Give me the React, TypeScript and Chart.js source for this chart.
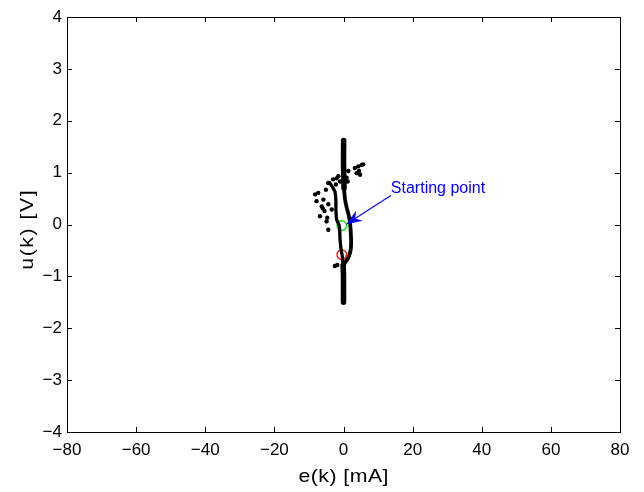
import React, { useEffect, useRef } from "react";
import { Chart, registerables } from "chart.js";
Chart.register(...registerables);

const X_TICKS = [-80, -60, -40, -20, 0, 20, 40, 60, 80];
const Y_TICKS = [-4, -3, -2, -1, 0, 1, 2, 3, 4];

// thick trunk (upper)
const trunkUpperE = [0.05, 0.0, 0.1, 0.15];
const trunkUpperU = [1.62, 1.2, 0.9, 0.7];
// thick trunk (lower)
const trunkLowerE = [-0.1, 0.0, 0.0, 0.0];
const trunkLowerU = [-0.78, -1.0, -1.25, -1.5];
// right branch of the loop
const rightE = [0.15, 0.4, 0.9, 1.5, 1.9, 2.2, 2.1, 1.4, 0.4, -0.1];
const rightU = [0.7, 0.5, 0.33, 0.18, 0.03, -0.29, -0.48, -0.64, -0.74, -0.8];
// left branch of the loop
const leftE = [-3.9, -2.5, -2.2, -2.2, -2.0, -1.2, -1.0, -0.7, -0.35, -0.1];
const leftU = [0.8, 0.64, 0.45, 0.3, 0.1, -0.03, -0.29, -0.48, -0.61, -0.78];
// scattered samples
const dotsE = [-8.2, -7.3, -7.8, -5.8, -6.3, -4.4, -3.4, -6.8, -4.7, -4.9, -4.4, -6.0, -5.5, -5.1, -4.4,
  -3.0, -2.0, -1.5, -1.0, -2.2,
  3.3, 4.3, 5.7, 5.3, 3.8, 4.8, 4.5, 1.4, 1.2, 0.9,
  -2.5, -1.8];
const dotsU = [0.58, 0.61, 0.45, 0.48, 0.35, 0.39, 0.29, 0.16, 0.13, 0.06, -0.1, 0.31, 0.26, 0.67, 0.8,
  0.87, 0.89, 0.93, 0.83, 0.77,
  1.09, 1.12, 1.16, 1.15, 0.99, 0.96, 1.03, 1.03, 0.83, 0.9,
  -0.8, -0.78];
// markers
const startE = [-0.5];
const startU = [-0.02];
const endE = [-0.5];
const endU = [-0.58];
// annotation
const ANNOT_TEXT = "Starting point";
const ANNOT_TEXT_POS = [13.7, 0.61];
const ARROW_FROM = [13.7, 0.56];
const ARROW_TO = [0.7, 0.0];

const X_TITLE = "e(k) [mA]";
const Y_TITLE = "u(k) [V]";

const FONT = "'Liberation Sans', Arial, Helvetica, sans-serif";

const pts = (xs: number[], ys: number[]) => xs.map((x, i) => ({ x, y: ys[i] }));
const fmt = (v: number) => String(v).replace("-", "\u2212");

const decor = {
  id: "decor",
  afterDraw(chart: any) {
    const { ctx, chartArea: a, scales } = chart;
    const xs = scales.x;
    const ys = scales.y;
    ctx.save();
    ctx.strokeStyle = "#000";
    ctx.lineWidth = 1;
    // box
    ctx.strokeRect(Math.round(a.left) + 0.5, Math.round(a.top) + 0.5, Math.round(a.right - a.left), Math.round(a.bottom - a.top));
    // inward ticks
    const TL = 5;
    ctx.beginPath();
    X_TICKS.forEach((v) => {
      const p = Math.round(xs.getPixelForValue(v)) + 0.5;
      ctx.moveTo(p, a.bottom);
      ctx.lineTo(p, a.bottom - TL);
      ctx.moveTo(p, a.top);
      ctx.lineTo(p, a.top + TL);
    });
    Y_TICKS.forEach((v) => {
      const p = Math.round(ys.getPixelForValue(v)) + 0.5;
      ctx.moveTo(a.left, p);
      ctx.lineTo(a.left + TL, p);
      ctx.moveTo(a.right, p);
      ctx.lineTo(a.right - TL, p);
    });
    ctx.stroke();

    // titles
    ctx.fillStyle = "#000";
    ctx.font = `19px ${FONT}`;
    ctx.textAlign = "center";
    ctx.textBaseline = "middle";
    ctx.save();
    ctx.translate((a.left + a.right) / 2, 477);
    ctx.scale(1.12, 1);
    (ctx as any).letterSpacing = "0.4px";
    ctx.fillText(X_TITLE, 0.2, 0);
    ctx.restore();
    ctx.save();
    ctx.translate(27.5, 230);
    ctx.rotate(-Math.PI / 2);
    ctx.scale(1.12, 1);
    (ctx as any).letterSpacing = "1.4px";
    ctx.fillText(Y_TITLE, 0.7, 0);
    ctx.restore();

    // annotation arrow
    const x0 = xs.getPixelForValue(ARROW_FROM[0]);
    const y0 = ys.getPixelForValue(ARROW_FROM[1]);
    const x1 = xs.getPixelForValue(ARROW_TO[0]);
    const y1 = ys.getPixelForValue(ARROW_TO[1]);
    const len = Math.hypot(x1 - x0, y1 - y0);
    const dx = (x1 - x0) / len;
    const dy = (y1 - y0) / len;
    const nx = -dy;
    const ny = dx;
    const L = 16;
    const W = 6;
    const N = 5;
    ctx.strokeStyle = "#0000ff";
    ctx.fillStyle = "#0000ff";
    ctx.lineWidth = 1.1;
    ctx.beginPath();
    ctx.moveTo(x0, y0);
    ctx.lineTo(x1 - dx * (L - N), y1 - dy * (L - N));
    ctx.stroke();
    ctx.beginPath();
    ctx.moveTo(x1, y1);
    ctx.lineTo(x1 - dx * L + nx * W, y1 - dy * L + ny * W);
    ctx.lineTo(x1 - dx * (L - N), y1 - dy * (L - N));
    ctx.lineTo(x1 - dx * L - nx * W, y1 - dy * L - ny * W);
    ctx.closePath();
    ctx.fill();

    ctx.font = `16px ${FONT}`;
    ctx.textAlign = "left";
    ctx.textBaseline = "alphabetic";
    ctx.fillText(ANNOT_TEXT, xs.getPixelForValue(ANNOT_TEXT_POS[0]), ys.getPixelForValue(ANNOT_TEXT_POS[1]));
    ctx.restore();
  },
};

export default function App() {
  const ref = useRef<HTMLCanvasElement | null>(null);
  useEffect(() => {
    document.body.style.margin = "0";
    const canvas = ref.current!;
    const lineDs = (label: string, xs: number[], ys: number[], w: number) => ({
      label,
      data: pts(xs, ys),
      showLine: true,
      borderColor: "#000",
      backgroundColor: "#000",
      borderWidth: w,
      borderCapStyle: "round",
      borderJoinStyle: "round",
      pointRadius: 0,
      tension: 0.2,
    });
    const chart = new Chart(canvas, {
      type: "scatter",
      data: {
        datasets: [
          lineDs("trunk upper", trunkUpperE, trunkUpperU, 5.5),
          lineDs("right branch", rightE, rightU, 3.8),
          lineDs("left branch", leftE, leftU, 3.3),
          lineDs("trunk lower", trunkLowerE, trunkLowerU, 5.5),
          {
            label: "samples",
            data: pts(dotsE, dotsU),
            showLine: false,
            pointRadius: 2.2,
            pointBorderWidth: 0,
            backgroundColor: "#000",
            borderColor: "#000",
          },
          {
            label: "start",
            data: pts(startE, startU),
            showLine: false,
            pointRadius: 4.8,
            pointBorderWidth: 1.3,
            backgroundColor: "rgba(0,0,0,0)",
            borderColor: "#00e000",
          },
          {
            label: "end",
            data: pts(endE, endU),
            showLine: false,
            pointRadius: 4.8,
            pointBorderWidth: 1.3,
            backgroundColor: "rgba(0,0,0,0)",
            borderColor: "#ff0000",
          },
        ] as any,
      },
      options: {
        animation: false,
        responsive: false,
        maintainAspectRatio: false,
        devicePixelRatio: 1,
        layout: { padding: { left: 0, right: 24, top: 17, bottom: 0 } },
        plugins: { legend: { display: false }, tooltip: { enabled: false } },
        events: [],
        scales: {
          x: {
            type: "linear",
            min: -80,
            max: 80,
            afterBuildTicks: (s: any) => {
              s.ticks = X_TICKS.map((v) => ({ value: v }));
            },
            afterFit: (s: any) => {
              s.height = 60;
            },
            ticks: {
              color: "#000",
              font: { family: FONT, size: 17 },
              padding: 8,
              maxRotation: 0,
              autoSkip: false,
              callback: (v: any) => fmt(Number(v)),
            },
            grid: { display: false, drawTicks: false },
            border: { display: false },
          },
          y: {
            type: "linear",
            min: -4,
            max: 4,
            afterBuildTicks: (s: any) => {
              s.ticks = Y_TICKS.map((v) => ({ value: v }));
            },
            afterFit: (s: any) => {
              s.width = 67;
            },
            ticks: {
              color: "#000",
              font: { family: FONT, size: 17 },
              padding: 5,
              autoSkip: false,
              callback: (v: any) => fmt(Number(v)),
            },
            grid: { display: false, drawTicks: false },
            border: { display: false },
          },
        },
      },
      plugins: [decor],
    } as any);
    return () => chart.destroy();
  }, []);
  return (
    <div style={{ position: "absolute", left: 0, top: 0, width: 644, height: 492, background: "#fff" }}>
      <canvas ref={ref} width={644} height={492} style={{ width: 644, height: 492 }} />
    </div>
  );
}
